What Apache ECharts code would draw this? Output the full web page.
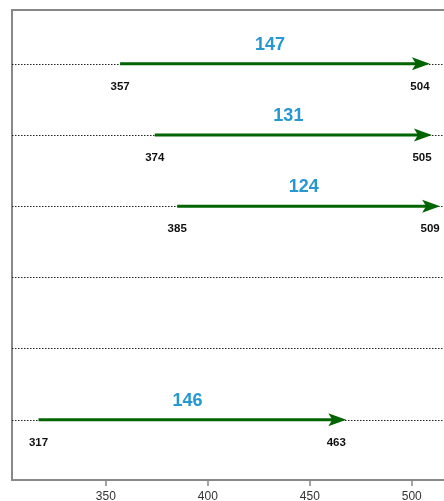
<!DOCTYPE html>
<html lang="en" style="height: 100%">

<head>
  <meta charset="utf-8" />
  <script src="https://cdn.jsdelivr.net/npm/echarts@6.0.0/dist/echarts.min.js"></script>
</head>

<body style="height: 100%; margin: 0; background: #fff">
  <div id="container" style="width: 444px; height: 501px"></div>

  <script type="text/javascript">
    // rows counted from the bottom (1) to the top (6); empty rows have no arrow
    var rows = [6, 5, 4, 3, 2, 1];
    var startValues = [357, 374, 385, null, null, 317];
    var endValues = [504, 505, 509, null, null, 463];
    var diffValues = [147, 131, 124, null, null, 146];
    var xTicks = [350, 400, 450, 500];

    var dom = document.getElementById("container");
    var myChart = echarts.init(dom, null, { renderer: "canvas" });

    var arrowData = [];
    for (var i = 0; i < rows.length; i++) {
      if (startValues[i] == null) continue;
      arrowData.push([startValues[i], endValues[i], rows[i], diffValues[i]]);
    }

    function renderArrow(params, api) {
      var s = api.coord([api.value(0), api.value(2)]);
      var e = api.coord([api.value(1), api.value(2)]);
      var y = s[1];
      var tip = e[0] + 10;
      var mid = api.coord([(api.value(0) + api.value(1)) / 2, api.value(2)]);
      return {
        type: "group",
        children: [
          {
            type: "line",
            shape: { x1: s[0], y1: y, x2: tip - 12, y2: y },
            style: { stroke: "#006400", lineWidth: 3 }
          },
          {
            type: "polygon",
            shape: { points: [[tip, y], [tip - 18, y - 6.5], [tip - 14, y], [tip - 18, y + 6.5]] },
            style: { fill: "#006400" }
          },
          {
            type: "text",
            x: mid[0], y: y - 19,
            style: {
              text: String(api.value(3)), fill: "#2697d1",
              font: "bold 18px Arial, 'Liberation Sans', sans-serif",
              align: "center", verticalAlign: "middle"
            }
          },
          {
            type: "text",
            x: s[0], y: y + 23,
            style: {
              text: String(api.value(0)), fill: "#111",
              font: "bold 11.5px Arial, 'Liberation Sans', sans-serif",
              align: "center", verticalAlign: "middle"
            }
          },
          {
            type: "text",
            x: e[0], y: y + 23,
            style: {
              text: String(api.value(1)), fill: "#111",
              font: "bold 11.5px Arial, 'Liberation Sans', sans-serif",
              align: "center", verticalAlign: "middle"
            }
          }
        ]
      };
    }

    var frameLine = { show: true, lineStyle: { color: "#888", width: 2 } };

    var option = {
      animation: false,
      grid: { left: 12, top: 10, right: 0, bottom: 21, outerBoundsMode: "none" },
      xAxis: [
        {
          type: "value",
          min: 304,
          max: 515.8,
          splitLine: { show: false },
          axisLine: frameLine,
          axisTick: { show: true, length: 6, customValues: xTicks, lineStyle: { color: "#888", width: 1.5 } },
          axisLabel: {
            customValues: xTicks, margin: 11, color: "#333",
            fontSize: 12, fontFamily: "Arial, 'Liberation Sans', sans-serif"
          }
        },
        {
          // top edge of the frame only
          type: "value",
          position: "top",
          min: 304,
          max: 515.8,
          splitLine: { show: false },
          axisLine: frameLine,
          axisTick: { show: false },
          axisLabel: { show: false }
        }
      ],
      yAxis: {
        type: "value",
        min: 0.155,
        max: 6.755,
        splitLine: { show: false },
        axisLine: frameLine,
        axisTick: { show: false },
        axisLabel: { show: false }
      },
      series: [
        {
          type: "line",
          data: [],
          markLine: {
            silent: true,
            symbol: "none",
            label: { show: false },
            lineStyle: { type: [1.5, 1.5], color: "#222", width: 1 },
            data: rows.map(function (r) { return { yAxis: r }; })
          }
        },
        {
          type: "custom",
          renderItem: renderArrow,
          data: arrowData,
          z: 5
        }
      ]
    };

    myChart.setOption(option);
    window.addEventListener("resize", myChart.resize);
  </script>
</body>

</html>
